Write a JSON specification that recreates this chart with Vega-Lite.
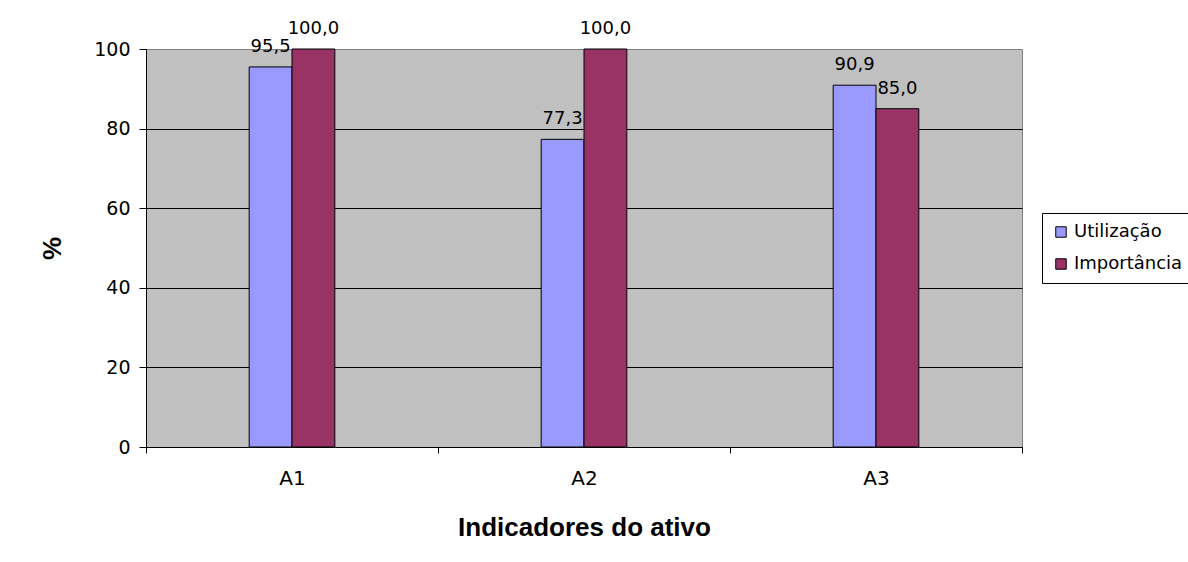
{
  "$schema": "https://vega.github.io/schema/vega-lite/v6.json",
  "width": 876,
  "height": 398,
  "autosize": {"type": "none"},
  "padding": {"left": 146, "top": 49, "right": 166, "bottom": 115},
  "background": "white",
  "data": {
    "values": [
      {"indicador": "A1", "serie": "Utilização", "valor": 95.5},
      {"indicador": "A1", "serie": "Importância", "valor": 100.0},
      {"indicador": "A2", "serie": "Utilização", "valor": 77.3},
      {"indicador": "A2", "serie": "Importância", "valor": 100.0},
      {"indicador": "A3", "serie": "Utilização", "valor": 90.9},
      {"indicador": "A3", "serie": "Importância", "valor": 85.0}
    ]
  },
  "encoding": {
    "x": {
      "field": "indicador",
      "type": "nominal",
      "scale": {"paddingInner": 0, "paddingOuter": 0},
      "axis": {
        "title": "Indicadores do ativo",
        "labelAngle": 0,
        "tickBand": "extent",
        "tickSize": 6,
        "tickColor": "black",
        "domainColor": "black",
        "labelFont": "DejaVu Sans",
        "labelFontSize": 20,
        "labelColor": "black",
        "labelPadding": 15,
        "titleFont": "Liberation Sans",
        "titleFontSize": 26,
        "titleFontWeight": "bold",
        "titleColor": "black",
        "titlePadding": 26,
        "grid": false
      }
    },
    "xOffset": {
      "field": "serie",
      "type": "nominal",
      "scale": {"domain": ["_1", "_2", "Utilização", "Importância", "_3", "_4"], "paddingInner": 0, "paddingOuter": 0.41}
    },
    "y": {
      "field": "valor",
      "type": "quantitative",
      "scale": {"domain": [0, 100], "nice": false},
      "axis": {
        "title": "%",
        "values": [0, 20, 40, 60, 80, 100],
        "tickSize": 7,
        "tickColor": "black",
        "domainColor": "black",
        "labelFont": "DejaVu Sans",
        "labelFontSize": 19,
        "labelColor": "black",
        "labelPadding": 9,
        "titleFont": "Liberation Sans",
        "titleFontSize": 26,
        "titleFontWeight": "bold",
        "titleColor": "black",
        "titlePadding": 28,
        "grid": true,
        "gridColor": {"condition": {"test": "datum.value === 100", "value": "#808080"}, "value": "black"},
        "gridOpacity": 1,
        "gridWidth": 1
      }
    }
  },
  "layer": [
    {
      "mark": {"type": "bar", "stroke": "black", "strokeWidth": 1},
      "encoding": {
        "color": {
          "field": "serie",
          "type": "nominal",
          "scale": {"domain": ["Utilização", "Importância"], "range": ["#9999FF", "#993366"]},
          "legend": {
            "title": null,
            "orient": "none",
            "legendX": 896,
            "legendY": 164,
            "strokeColor": "black",
            "fillColor": "white",
            "padding": 10,
            "symbolType": "square",
            "symbolSize": 110,
            "symbolStrokeColor": "black",
            "symbolStrokeWidth": 1,
            "symbolOpacity": 1,
            "labelFont": "DejaVu Sans",
            "labelFontSize": 18,
            "labelColor": "black",
            "labelOffset": 4,
            "rowPadding": 14
          }
        }
      }
    },
    {
      "mark": {"type": "text", "baseline": "alphabetic", "align": "center", "dy": -15, "font": "DejaVu Sans", "fontSize": 18, "color": "black"},
      "encoding": {
        "text": {"field": "valor", "type": "quantitative", "format": ".1f"}
      }
    }
  ],
  "config": {
    "locale": {"number": {"decimal": ",", "thousands": ".", "grouping": [3], "currency": ["", ""]}},
    "view": {"fill": "#C0C0C0", "stroke": "#808080", "strokeWidth": 1}
  }
}
